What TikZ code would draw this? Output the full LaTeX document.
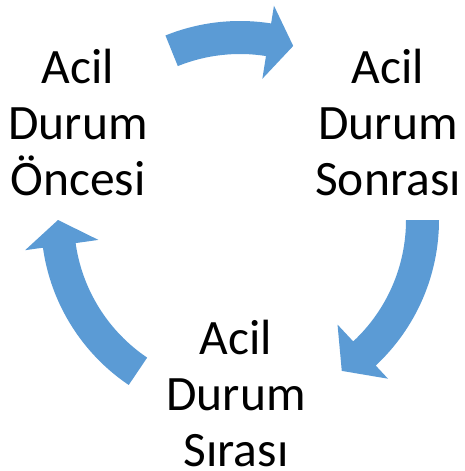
\documentclass[tikz,border=0pt]{standalone}
\usepackage{fontspec}
\setmainfont{Carlito}
\usetikzlibrary{calc}
\definecolor{cycblue}{HTML}{5B9BD5}
\begin{document}
\begin{tikzpicture}[x=1pt,y=-1pt,
  lbl/.style={align=center, inner sep=0pt, font=\fontsize{49.5}{56}\selectfont, anchor=base},
  cycarrow/.style={fill=cycblue, draw=none}]
\useasboundingbox (0,0) rectangle (464,471);
\coordinate (C) at (240,220);
% tail, neck, tip angles (screen, clockwise)
\newcommand{\cycArrow}[3]{%
  \fill[cycarrow] ($(C)+(#1:199)$) arc[start angle=#1, end angle=#2, radius=199]
    -- ($(C)+(#2:217)$) -- ($(C)+(#3:182)$) -- ($(C)+(#2:143)$)
    -- ($(C)+(#2:166)$) arc[start angle=#2, end angle=#1, radius=166] -- cycle;}
\cycArrow{-112}{-81}{-73}
\cycArrow{0}{47}{56}
\cycArrow{124}{172}{180}
\node[lbl] (pre) at (78,195) {Acil\\Durum\\Öncesi};
\node[lbl] (post) at (388,195) {Acil\\Durum\\Sonrası};
\node[lbl] (during) at (236,466) {Acil\\Durum\\Sırası};
\end{tikzpicture}
\end{document}
